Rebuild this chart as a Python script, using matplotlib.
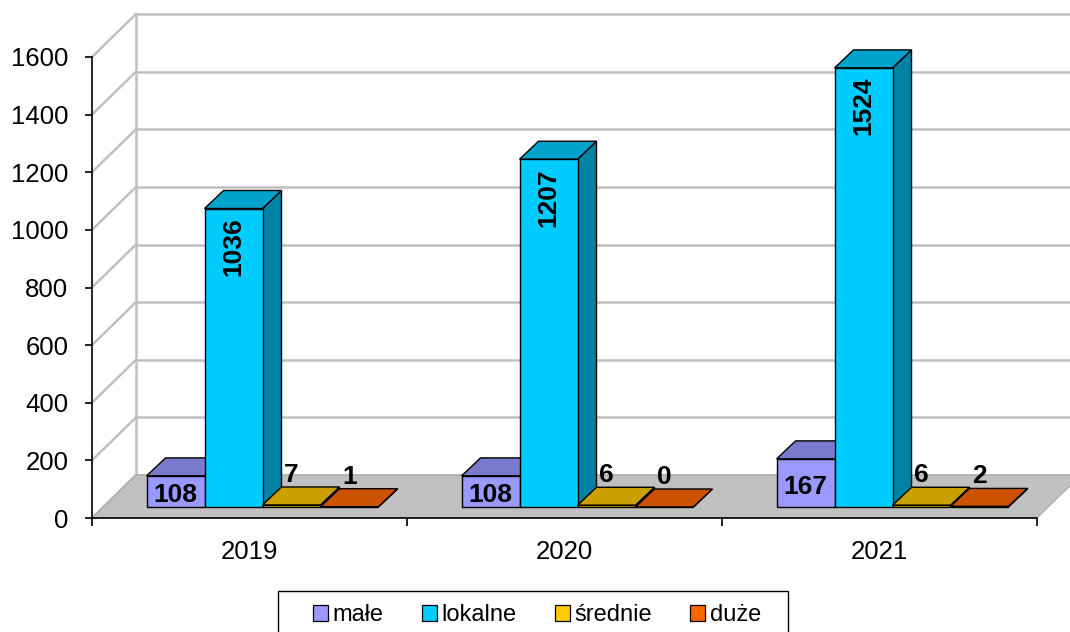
import matplotlib.pyplot as plt
from matplotlib.patches import Polygon, Patch, Rectangle
import numpy as np

plt.rcParams['font.family'] = ['Liberation Sans', 'DejaVu Sans']

years = ['2019', '2020', '2021']
series = ['małe', 'lokalne', 'średnie', 'duże']
male = [108, 108, 167]
lokalne = [1036, 1207, 1524]
srednie = [7, 6, 6]
duze = [1, 0, 2]
values = [male, lokalne, srednie, duze]

front_col = ['#9999ff', '#00ccff', '#ffcc00', '#ff6600']
top_col = ['#7a7acc', '#00a3cc', '#c9a000', '#cc5200']
side_col = ['#6161a3', '#0082a3', '#a38200', '#a34100']

W, H = 1070, 632
fig = plt.figure(figsize=(W / 100, H / 100), dpi=100)
ax_l, ax_b, ax_w, ax_h = 92, 518, 945, 461   # pixels of the front plane
ax = fig.add_axes([ax_l / W, (H - ax_b) / H, ax_w / W, ax_h / H])
ymax = 1600
ax.set_xlim(-0.5, 2.5)
ax.set_ylim(0, ymax)

# pixel -> data helpers
px_x = 3.0 / ax_w
px_y = ymax / ax_h


def off(dx, dy):
    return dx * px_x, dy * px_y


bdx, bdy = off(44, 43)   # back wall
fdx, fdy = off(13, 11)   # front face of bars
ddx, ddy = off(19, 18)   # bar depth

grid = '#c0c0c0'
yticks = np.arange(0, ymax + 1, 200)
for v in yticks:
    ax.plot([-0.5 + bdx, 2.5 + bdx + 0.2], [v + bdy, v + bdy], color=grid, lw=1.8, clip_on=False, zorder=1)
    ax.plot([-0.5, -0.5 + bdx], [v, v + bdy], color=grid, lw=1.8, clip_on=False, zorder=1)
ax.plot([-0.5 + bdx, -0.5 + bdx], [bdy, ymax + bdy], color=grid, lw=1.8, clip_on=False, zorder=1)

# floor
floor = Polygon([(-0.5, 0), (2.5, 0), (2.5 + bdx, bdy), (-0.5 + bdx, bdy)],
                closed=True, facecolor='#c0c0c0', edgecolor='#a8a8a8', lw=0.8, clip_on=False, zorder=2)
ax.add_patch(floor)

bw = 0.184
nser = len(series)
for c in range(len(years)):
    for s in range(nser):
        v = values[s][c]
        x0 = c - bw * nser / 2 + s * bw + fdx
        x1 = x0 + bw
        y0 = fdy
        y1 = fdy + v
        z = 3 + s
        # side face
        ax.add_patch(Polygon([(x1, y0), (x1, y1), (x1 + ddx, y1 + ddy), (x1 + ddx, y0 + ddy)],
                             closed=True, facecolor=side_col[s], edgecolor='black', lw=1.0, clip_on=False, zorder=z))
        # top face
        ax.add_patch(Polygon([(x0, y1), (x1, y1), (x1 + ddx, y1 + ddy), (x0 + ddx, y1 + ddy)],
                             closed=True, facecolor=top_col[s], edgecolor='black', lw=1.0, clip_on=False, zorder=z))
        # front face
        ax.bar(x0, v, width=bw, bottom=y0, align='edge', color=front_col[s], edgecolor='black',
               lw=1.0, clip_on=False, zorder=z)
        xc = (x0 + x1) / 2
        if s == 0:
            ax.text(xc, y0 + v / 2 - 4 * px_y, str(v), ha='center', va='center', fontsize=19,
                    fontweight='bold', zorder=10)
        elif s == 1:
            ax.text(xc, y1 - 9 * px_y, str(v), ha='center', va='top', rotation=90,
                    fontsize=19, fontweight='bold', zorder=10)
        else:
            ax.text(xc, y1 + ddy, str(v), ha='center', va='bottom', fontsize=19,
                    fontweight='bold', zorder=10)

# axes
for sp in ['top', 'right']:
    ax.spines[sp].set_visible(False)
for sp in ['left', 'bottom']:
    ax.spines[sp].set_color('black')
    ax.spines[sp].set_linewidth(1.2)
    ax.spines[sp].set_zorder(2.5)
ax.set_yticks(yticks)
ax.tick_params(axis='y', length=5, width=1.2, pad=12, labelsize=18.5)
ax.set_xticks(range(len(years)))
ax.set_xticklabels(years)
ax.set_xticks([-0.5, 0.5, 1.5, 2.5], minor=True)
ax.tick_params(axis='x', which='major', length=0, pad=16, labelsize=18.5)
ax.tick_params(axis='x', which='minor', length=6, width=1.2)
ax.set_facecolor('none')

# legend frame (runs past the bottom edge, as in the original)
fig.patches.append(Rectangle((278 / W, -0.05), 510 / W, 0.05 + 1 - 591 / H, transform=fig.transFigure,
                             facecolor='white', edgecolor='black', lw=1.0, zorder=0))
handles = [Patch(facecolor=front_col[i], edgecolor='black', lw=0.9) for i in range(nser)]
fig.legend(handles, series, loc='center', ncol=4,
           bbox_to_anchor=(537 / W, 1 - 615 / H),
           fontsize=17, frameon=False,
           handlelength=0.65, handleheight=0.65, handletextpad=0.2, columnspacing=1.6,
           borderpad=0, borderaxespad=0)

fig.savefig('out.png', dpi=100)
